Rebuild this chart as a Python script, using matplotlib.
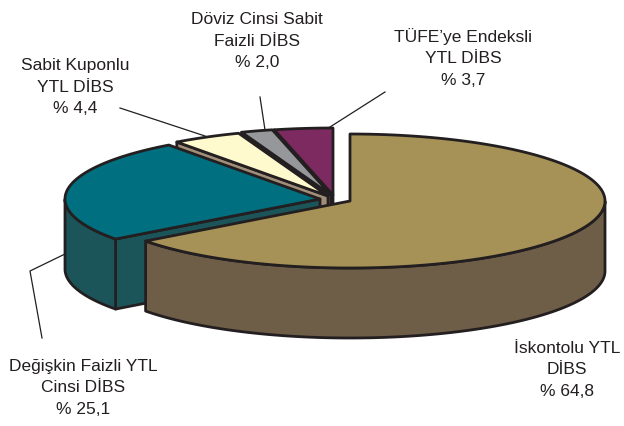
import numpy as np
import matplotlib
matplotlib.use("Agg")
import matplotlib.pyplot as plt

labels = ["İskontolu YTL\nDİBS\n% 64,8",
          "Değişkin Faizli YTL\nCinsi DİBS\n% 25,1",
          "Sabit Kuponlu\nYTL DİBS\n% 4,4",
          "Döviz Cinsi Sabit\nFaizli DİBS\n% 2,0",
          "TÜFE’ye Endeksli\nYTL DİBS\n% 3,7"]
values = [64.8, 25.1, 4.4, 2.0, 3.7]
top_colors = ["#a69257", "#006f80", "#fffacd", "#96979b", "#7d2a60"]
wall_colors = ["#6e5d47", "#1c5559", "#a08e78", "#5f6063", "#4f1a3d"]
# apex of each exploded slice, in pixels
apex_x = [350, 320, 328, 331, 333]
apex_y = [201, 199, 196, 195, 195]
label_x = [567, 83, 75, 257, 463]
label_y = [370, 388, 87, 41, 58]

RX, RY, DEPTH = 255, 67, 70
EDGE = "#231f20"

plt.rcParams["font.family"] = ["Liberation Sans", "DejaVu Sans"]
fig = plt.figure(figsize=(6.24, 4.26), dpi=100)
ax = fig.add_axes([0, 0, 1, 1])
ax.set_xlim(0, 624)
ax.set_ylim(426, 0)
ax.axis("off")

def arc(cx, cy, a0, a1):
    t = np.radians(np.linspace(a0, a1, 200))
    return cx + RX * np.cos(t), cy - RY * np.sin(t)

def draw_slice(i, a0, a1):
    cx, cy = apex_x[i], apex_y[i]
    kw = dict(edgecolor=EDGE, linewidth=2, joinstyle="round")
    x, y = arc(cx, cy, a0, a1)
    # cut faces, only the ones turned towards the viewer
    if np.sin(np.radians(a0 + 90)) < -1e-6:
        ax.fill([cx, x[0], x[0], cx], [cy, y[0], y[0] + DEPTH, cy + DEPTH],
                facecolor=wall_colors[i], **kw)
    if np.sin(np.radians(a1 - 90)) < -1e-6:
        ax.fill([cx, x[-1], x[-1], cx], [cy, y[-1], y[-1] + DEPTH, cy + DEPTH],
                facecolor=wall_colors[i], **kw)
    # outer wall, front half of the ellipse only
    front = np.sin(np.radians(np.linspace(a0, a1, 200))) <= 0
    if front.any():
        fx, fy = x[front], y[front]
        ax.fill(np.r_[fx, fx[::-1]], np.r_[fy, fy[::-1] + DEPTH],
                facecolor=wall_colors[i], **kw)
    # top
    ax.fill(np.r_[cx, x], np.r_[cy, y], facecolor=top_colors[i], **kw)

angles = 90 - np.cumsum([0] + values) * 3.6
# back slices first, the big one last
for i in [4, 3, 2, 1, 0]:
    draw_slice(i, angles[i], angles[i + 1])

# leader lines
ax.plot([120, 205], [108, 136], color=EDGE, lw=0.9)
ax.plot([260, 265], [97, 130], color=EDGE, lw=0.9)
ax.plot([385, 330], [92, 127], color=EDGE, lw=0.9)
ax.plot([65, 30, 42], [254, 271, 338], color=EDGE, lw=0.9)

for i in range(5):
    ax.text(label_x[i], label_y[i], labels[i], ha="center", va="center",
            fontsize=12.5, color="#231f20", linespacing=1.55)

fig.savefig("out.png", dpi=100)
